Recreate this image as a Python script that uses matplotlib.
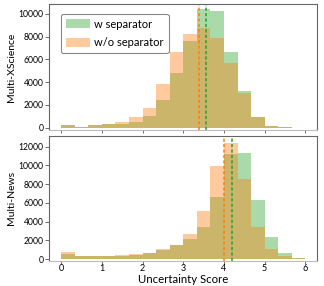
import numpy as np
import matplotlib
matplotlib.use("Agg")
import matplotlib.pyplot as plt

plt.rcParams['font.family'] = ['Lato', 'DejaVu Sans']

bin_edges = [i / 3 for i in range(19)]

xs_w_sep = [250, 100, 250, 300, 300, 500, 1000, 2400, 4850, 7650, 10400, 10300, 6700, 3200, 950, 170, 30, 0]
xs_wo_sep = [250, 100, 250, 300, 500, 900, 1750, 3850, 6700, 8200, 8750, 7850, 5650, 3050, 950, 170, 30, 0]
xs_mean_w = 3.57
xs_mean_wo = 3.39

mn_w_sep = [560, 310, 310, 280, 380, 450, 660, 980, 1500, 2100, 3380, 6620, 11200, 11300, 6270, 2370, 660, 100]
mn_wo_sep = [730, 310, 310, 280, 420, 520, 660, 1050, 1500, 2650, 5150, 9900, 12400, 8580, 3450, 1080, 280, 100]
mn_mean_w = 4.2
mn_mean_wo = 4.0

xticks = [0, 1, 2, 3, 4, 5, 6]

fig = plt.figure(figsize=(3.24, 2.86), dpi=100)
ax1 = fig.add_axes([49/324, 1 - 130/286, (316.7 - 49)/324, (130 - 4.3)/286])
ax2 = fig.add_axes([49/324, 1 - 260.5/286, (316.7 - 49)/324, (260.5 - 135.7)/286])

green = '#2ca02c'
orange = '#ff7f0e'
centers = [(bin_edges[i] + bin_edges[i + 1]) / 2 for i in range(18)]

for ax, w, wo, mw, mwo, ylab, ylim in [
    (ax1, xs_w_sep, xs_wo_sep, xs_mean_w, xs_mean_wo, 'Multi-XScience', (-200, 10850)),
    (ax2, mn_w_sep, mn_wo_sep, mn_mean_w, mn_mean_wo, 'Multi-News', (-150, 13170)),
]:
    ax.hist(centers, bins=bin_edges, weights=w, color=green, alpha=0.4, label='w separator')
    ax.hist(centers, bins=bin_edges, weights=wo, color=orange, alpha=0.4, label='w/o separator')
    ax.axvline(mwo, color=orange, ls=(0, (1.8, 1.2)), lw=1.3, alpha=0.85)
    ax.axvline(mw, color=green, ls=(0, (1.8, 1.2)), lw=1.3, alpha=0.85)
    ax.set_xlim(-0.3, 6.28)
    ax.set_ylim(*ylim)
    ax.set_xticks(xticks)
    ax.set_ylabel(ylab, fontsize=7.5, labelpad=2)
    ax.tick_params(axis='y', labelsize=6.2, length=3, width=0.6, color='#555555', pad=1)
    ax.tick_params(axis='x', labelsize=6.5, length=2, width=0.6, color='#555555', pad=0.5)
    for s in ax.spines.values():
        s.set_color('#666666')
        s.set_linewidth(0.8)
    ax.spines['bottom'].set_color('#bbbbbb')

ax1.set_xticklabels([])
ax1.set_yticks([0, 2000, 4000, 6000, 8000, 10000])
ax2.set_yticks([0, 2000, 4000, 6000, 8000, 10000, 12000])
ax2.set_xticklabels([str(t) for t in xticks])
ax2.set_xlabel('Uncertainty Score', fontsize=8.2, labelpad=0.5)

leg = ax1.legend(loc='upper left', bbox_to_anchor=(0.025, 0.97), fontsize=8,
                 handlelength=2.1, handleheight=0.9, fancybox=True, framealpha=1,
                 edgecolor='#888888', borderpad=0.45, labelspacing=0.7, handletextpad=0.4)
leg.get_frame().set_linewidth(0.8)

fig.savefig('out.png', dpi=100)
